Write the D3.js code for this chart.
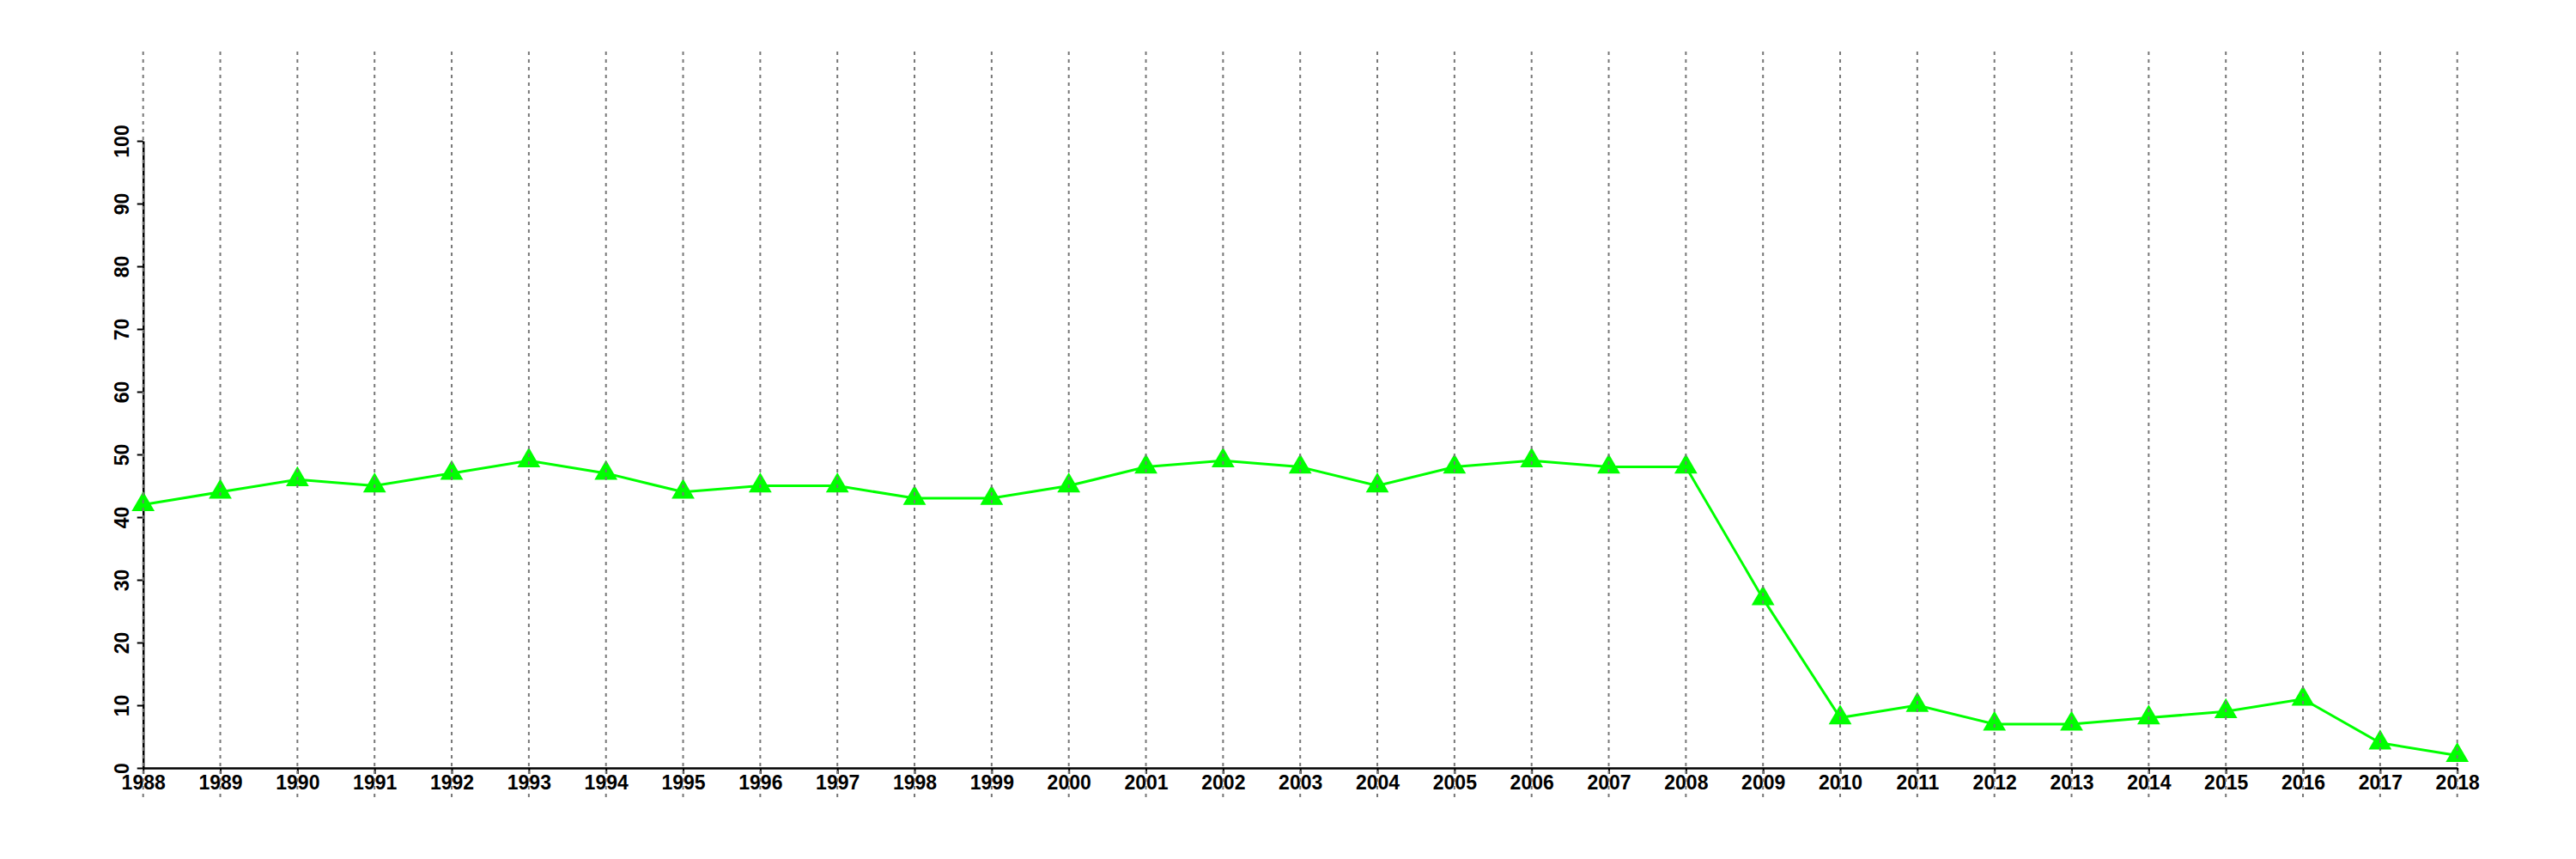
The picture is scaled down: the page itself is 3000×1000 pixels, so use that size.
<!DOCTYPE html>
<html>
<head>
<meta charset="utf-8">
<script src="https://cdn.jsdelivr.net/npm/d3@7"></script>
<style>
  body { margin: 0; background: #fff; }
  svg text { font-family: "Liberation Sans", Arial, Helvetica, sans-serif; font-weight: bold; }
</style>
</head>
<body>
<svg width="3000" height="1000"></svg>
<script>
// years and yearly values
var years = d3.range(1988, 2019);
var values = [42, 44, 46, 45, 47, 49, 47, 44, 45, 45, 43, 43, 45, 48, 49, 48, 45, 48, 49, 48, 48,
              27, 8, 10, 7, 7, 8, 9, 11, 4, 2];
var yTicks = d3.range(0, 101, 10);

var svg = d3.select("svg");

var x = d3.scaleLinear().domain([1988, 2018]).range([166.7, 2861.7]);
var y = d3.scaleLinear().domain([0, 100]).range([894, 164]);

// x axis
var xAxis = svg.append("g")
    .attr("transform", "translate(0," + y(0) + ")")
    .call(d3.axisBottom(x)
        .tickValues(years)
        .tickFormat(d3.format("d"))
        .tickSize(7)
        .tickSizeOuter(0)
        .tickPadding(2));

// y axis, labels rotated
var yAxis = svg.append("g")
    .attr("transform", "translate(" + x(1988) + ",0)")
    .call(d3.axisLeft(y)
        .tickValues(yTicks)
        .tickSize(7)
        .tickSizeOuter(0));

yAxis.selectAll("text")
    .attr("transform", "rotate(-90)")
    .attr("x", 0)
    .attr("y", -17)
    .attr("dy", 0)
    .attr("text-anchor", "middle");

svg.selectAll(".domain").attr("stroke", "#000").attr("stroke-width", 2.5);
svg.selectAll(".tick line").attr("stroke", "#000").attr("stroke-width", 2);
svg.selectAll(".tick text").attr("fill", "#000").style("font-size", "23px");

// data line
var line = d3.line()
    .x(function(d, i) { return x(years[i]); })
    .y(function(d) { return y(d); });

svg.append("path")
    .datum(values)
    .attr("fill", "none")
    .attr("stroke", "#00ff00")
    .attr("stroke-width", 3)
    .attr("d", line);

// triangle markers
svg.append("g")
    .selectAll("path")
    .data(values)
    .enter().append("path")
    .attr("d", d3.symbol().type(d3.symbolTriangle).size(310))
    .attr("transform", function(d, i) { return "translate(" + x(years[i]) + "," + y(d) + ")"; })
    .attr("fill", "#00ff00");

// dotted vertical gridlines, drawn on top
svg.append("g")
    .selectAll("line")
    .data(years)
    .enter().append("line")
    .attr("x1", function(d) { return x(d); })
    .attr("x2", function(d) { return x(d); })
    .attr("y1", 60)
    .attr("y2", 928)
    .attr("stroke", "#777")
    .attr("stroke-width", 2)
    .attr("stroke-dasharray", "4,5");
</script>
</body>
</html>
